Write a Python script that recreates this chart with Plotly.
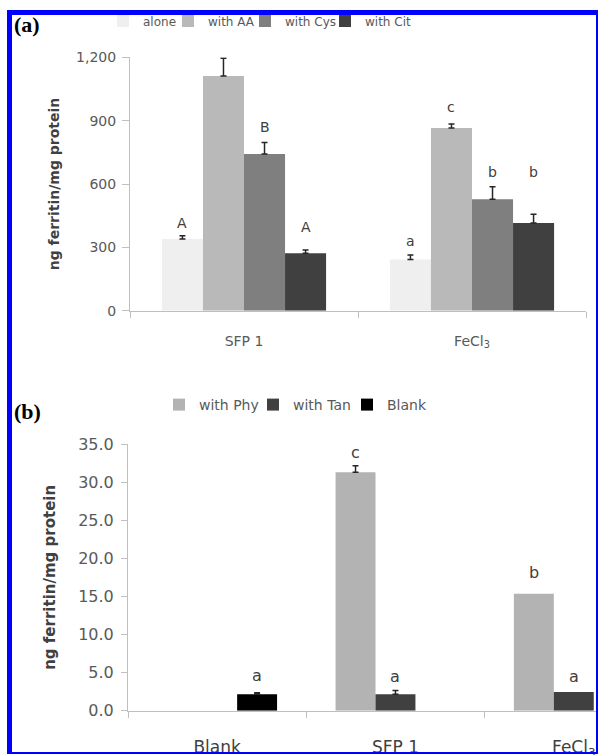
import plotly.graph_objects as go

# ---------------- data ----------------
cats_a = ["SFP 1", "FeCl<sub>3</sub>"]
series_a = ["alone", "with AA", "with Cys", "with Cit"]
alone = [340, 243]
with_aa = [1112, 865]
with_cys = [742, 528]
with_cit = [272, 415]
err_alone = [15, 21]
err_aa = [84, 19]
err_cys = [54, 59]
err_cit = [15, 42]
letters_alone = ["A", "a"]
letters_aa = ["C", "c"]
letters_cys = ["B", "b"]
letters_cit = ["A", "b"]
lab_y_alone = [415, 330]
lab_y_aa = [1254, 965]
lab_y_cys = [870, 655]
lab_y_cit = [396, 655]
yticks_a = [0, 300, 600, 900, 1200]

cats_b = ["Blank", "SFP 1", "FeCl<sub>3</sub>"]
series_b = ["with Phy", "with Tan", "Blank"]
with_phy = [None, 31.3, 15.35]
with_tan = [None, 2.15, 2.45]
blank = [2.15, None, None]
err_phy = [None, 0.85, None]
err_tan = [None, 0.5, None]
err_blank = [0.2, None, None]
letters_phy = [None, "c", "b"]
letters_tan = [None, "a", "a"]
letters_blank = ["a", None, None]
lab_y_phy = [None, 33.9, 18.1]
lab_y_tan = [None, 4.55, 4.55]
lab_y_blank = [4.65, None, None]
yticks_b = [0, 5, 10, 15, 20, 25, 30, 35]

colors_a = ["#efefef", "#b9b9b9", "#7f7f7f", "#404040"]
colors_b = ["#b3b3b3", "#404040", "#000000"]
legw_a = [20, 32, 35, 45]
legw_b = [49, 49, 49]

W, H = 600, 755
FONT = "DejaVu Sans"
TXT = "#595959"
AXC = "#bfbfbf"

fig = go.Figure()
annotations = []


def err_arrays(errs):
    # "NaN" strings evaluate to NaN in plotly.js, so no error bar is drawn there
    plus = [e if e is not None else "NaN" for e in errs]
    minus = [0 if e is not None else "NaN" for e in errs]
    return plus, minus


# ---------------- panel (a) ----------------
wa = 0.18
vals_a = [alone, with_aa, with_cys, with_cit]
errs_a = [err_alone, err_aa, err_cys, err_cit]
lets_a = [letters_alone, letters_aa, letters_cys, letters_cit]
laby_a = [lab_y_alone, lab_y_aa, lab_y_cys, lab_y_cit]
na = len(series_a)
for i, name in enumerate(series_a):
    off = -na * wa / 2 + i * wa
    ep, em = err_arrays(errs_a[i])
    fig.add_trace(go.Bar(
        x=cats_a, y=vals_a[i], name=name, width=wa, offset=off,
        marker=dict(color=colors_a[i], line=dict(width=0)),
        error_y=dict(type="data", symmetric=False, array=ep, arrayminus=em,
                     color="#262626", thickness=1.5, width=3),
        xaxis="x", yaxis="y", legend="legend", legendwidth=legw_a[i]))
    for j in range(len(cats_a)):
        if lets_a[i][j]:
            annotations.append(dict(
                x=j + off + wa / 2, y=laby_a[i][j], xref="x", yref="y",
                text=lets_a[i][j], showarrow=False, xanchor="center", yanchor="middle",
                font=dict(family=FONT, size=14, color="#404040")))

# ---------------- panel (b) ----------------
wb = 0.224
vals_b = [with_phy, with_tan, blank]
errs_b = [err_phy, err_tan, err_blank]
lets_b = [letters_phy, letters_tan, letters_blank]
laby_b = [lab_y_phy, lab_y_tan, lab_y_blank]
nb = len(series_b)
for i, name in enumerate(series_b):
    off = -nb * wb / 2 + i * wb
    ep, em = err_arrays(errs_b[i])
    fig.add_trace(go.Bar(
        x=cats_b, y=vals_b[i], name=name, width=wb, offset=off,
        marker=dict(color=colors_b[i], line=dict(width=0)),
        error_y=dict(type="data", symmetric=False, array=ep, arrayminus=em,
                     color="#262626", thickness=1.5, width=3),
        xaxis="x2", yaxis="y2", legend="legend2", legendwidth=legw_b[i]))
    for j in range(len(cats_b)):
        if lets_b[i][j]:
            annotations.append(dict(
                x=j + off + wb / 2, y=laby_b[i][j], xref="x2", yref="y2",
                text=lets_b[i][j], showarrow=False, xanchor="center", yanchor="middle",
                font=dict(family=FONT, size=16, color="#404040")))

# panel labels
for txt, cy in (("<b>(a)</b>", 25), ("<b>(b)</b>", 411)):
    annotations.append(dict(x=27 / W, y=1 - cy / H, xref="paper", yref="paper",
                            text=txt, showarrow=False, xanchor="center", yanchor="middle",
                            font=dict(family="Liberation Serif", size=22, color="#000")))

# blue frame
blue = "#0000ff"
def prect(x0, x1, y0, y1, color):
    return dict(type="rect", xref="paper", yref="paper", x0=x0 / W, x1=x1 / W,
                y0=1 - y1 / H, y1=1 - y0 / H, fillcolor=color,
                line=dict(width=0), layer="above")

shapes = [
    prect(598, W, 0, H, "white"),
    prect(7, 598, 10, 15, blue),
    prect(7, 12, 10, 754, blue),
    prect(596, 598, 10, 754, blue),
    prect(7, 598, 752, 754, blue),
]

axis_common = dict(showgrid=False, zeroline=False, showline=True, linecolor=AXC,
                   linewidth=1, ticks="outside", tickcolor=AXC)

fig.update_layout(
    width=W, height=H, margin=dict(l=0, r=0, t=0, b=0, autoexpand=False),
    paper_bgcolor="white", plot_bgcolor="white",
    barmode="group",
    font=dict(family=FONT, color=TXT),
    xaxis=dict(domain=[130 / W, 586 / W], anchor="y", type="category",
               range=[-0.5, 1.5], tickson="boundaries", ticklen=6,
               ticklabelstandoff=17, tickfont=dict(size=14, color=TXT),
               **axis_common),
    yaxis=dict(domain=[1 - 310.7 / H, 1 - 57.3 / H], anchor="x", range=[0, 1200],
               tickvals=yticks_a, tickformat=",d", ticklen=7, ticklabelstandoff=3,
               tickfont=dict(size=14, color=TXT),
               title=dict(text="<b>ng ferritin/mg protein</b>", standoff=13,
                          font=dict(size=14, color="#404040")),
               **axis_common),
    xaxis2=dict(domain=[128 / W, 1.0], anchor="y2", type="category",
                range=[-0.5, 2.147], tickson="boundaries", ticklen=6,
                ticklabelstandoff=21, tickfont=dict(size=17, color="#404040"),
                **axis_common),
    yaxis2=dict(domain=[1 - 710.7 / H, 1 - 444 / H], anchor="x2", range=[0, 35],
                tickvals=yticks_b, tickformat=".1f", ticklen=6, ticklabelstandoff=4,
                tickfont=dict(size=16, color=TXT),
                title=dict(text="<b>ng ferritin/mg protein</b>", standoff=18,
                           font=dict(size=15, color="#404040")),
                **axis_common),
    legend=dict(orientation="h", x=103 / W, y=1 - 21 / H, xanchor="left",
                yanchor="middle", font=dict(size=12, color=TXT),
                bgcolor="rgba(0,0,0,0)", itemwidth=30, traceorder="normal"),
    legend2=dict(orientation="h", x=159 / W, y=1 - 405 / H, xanchor="left",
                 yanchor="middle", font=dict(size=14, color=TXT),
                 bgcolor="rgba(0,0,0,0)", itemwidth=30, traceorder="normal"),
    annotations=annotations,
    shapes=shapes,
    showlegend=True,
)

fig.write_html("out.html", config={"displayModeBar": False},
               post_script="document.body.style.margin='0px';")
